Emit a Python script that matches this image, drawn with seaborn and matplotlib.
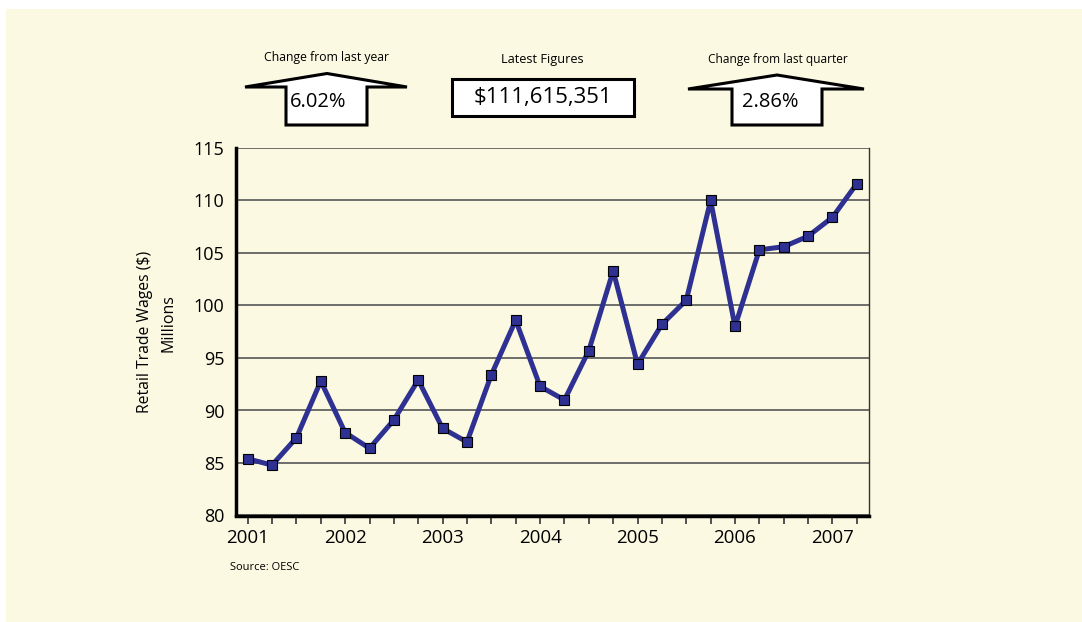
import matplotlib
matplotlib.use("Agg")
import matplotlib.pyplot as plt
from matplotlib.patches import Rectangle, Polygon
import seaborn as sns
import pandas as pd

# quarterly retail trade wages, millions of dollars (2001 Q1 .. 2007 Q2)
quarters = list(range(26))
wages = [85.4, 84.8, 87.4, 92.8, 87.9, 86.4, 89.1, 92.9, 88.3, 87.0,
         93.4, 98.6, 92.3, 91.0, 95.7, 103.3, 94.4, 98.2, 100.5, 110.0,
         98.0, 105.3, 105.6, 106.6, 108.4, 111.6]
years = ["2001", "2002", "2003", "2004", "2005", "2006", "2007"]
y_ticks = [80, 85, 90, 95, 100, 105, 110, 115]

yearly_change = "6.02%"
latest_figure = "$111,615,351"
quarterly_change = "2.86%"

W, H = 1082, 622
BG = "#FBF9E2"
LINE = "#2E3192"

sns.set_style("white")
plt.rcParams["font.family"] = ["Open Sans", "DejaVu Sans"]
plt.rcParams["text.color"] = "black"
plt.rcParams["xtick.color"] = "black"
plt.rcParams["ytick.color"] = "black"

fig = plt.figure(figsize=(W / 100, H / 100), dpi=100, facecolor="white")


def fx(x):
    return x / W


def fy(y):
    return 1 - y / H


# cream panel (behind the axes), white strip only on top and left
fig.patches.append(Rectangle((fx(6), 0), fx(W - 6), (H - 9) / H,
                             transform=fig.transFigure, facecolor=BG,
                             edgecolor="none", zorder=-5))

ax = fig.add_axes([fx(235.5), fy(515.5), fx(869 - 235.5), (515.5 - 148) / H])
ax.set_facecolor(BG)

df = pd.DataFrame({"q": quarters, "wages": wages})
sns.lineplot(data=df, x="q", y="wages", ax=ax, color=LINE, linewidth=3.6,
             marker="s", markersize=6.5, markeredgecolor="black",
             markeredgewidth=0.8, markerfacecolor=LINE, zorder=3)

ax.set_xlim(-0.5, 25.5)
ax.set_ylim(80, 115)
ax.set_yticks(y_ticks)
ax.set_yticklabels([str(v) for v in y_ticks], fontsize=13)
ax.set_xticks(quarters)
ax.set_xticklabels([years[q // 4] if q % 4 == 0 else "" for q in quarters],
                   fontsize=13.5)
ax.tick_params(axis="x", direction="out", length=6, width=1.3, color="#444444",
               pad=4, bottom=True, labelcolor="black")
ax.tick_params(axis="y", length=0, pad=8, left=False, labelcolor="black")
ax.yaxis.grid(True, color="#555555", linewidth=1.2)
ax.set_axisbelow(True)
ax.set_xlabel("")
ax.set_ylabel("")

ax.spines["top"].set_visible(False)
ax.spines["left"].set_linewidth(2.5)
ax.spines["left"].set_color("black")
ax.spines["bottom"].set_linewidth(2.5)
ax.spines["bottom"].set_color("black")
ax.spines["right"].set_linewidth(1.0)
ax.spines["right"].set_color("#333333")

fig.text(fx(145), fy(332), "Retail Trade Wages ($)", rotation=90,
         ha="center", va="center", fontsize=11.3)
fig.text(fx(169), fy(323), "Millions", rotation=90,
         ha="center", va="center", fontsize=11.5)
fig.text(fx(230), fy(568), "Source: OESC", ha="left", va="center", fontsize=8)


def arrow(left, apex_x, apex_y, right, base_y, box_l, box_r, box_b):
    pts = [(left, base_y), (apex_x, apex_y), (right, base_y), (box_r, base_y),
           (box_r, box_b), (box_l, box_b), (box_l, base_y)]
    fig.patches.append(Polygon([(fx(x), fy(y)) for x, y in pts], closed=True,
                               transform=fig.transFigure, facecolor="white",
                               edgecolor="black", linewidth=2.2, zorder=2))


arrow(245, 327, 73.5, 407, 87, 286, 367, 125)
fig.text(fx(327), fy(57), "Change from last year", ha="center", va="center",
         fontsize=8.8)
fig.text(fx(318), fy(102), yearly_change, ha="center", va="center",
         fontsize=14.5, zorder=5)

arrow(688, 777, 75, 864, 89, 732, 822, 125)
fig.text(fx(778), fy(59), "Change from last quarter", ha="center",
         va="center", fontsize=8.6)
fig.text(fx(770), fy(102), quarterly_change, ha="center", va="center",
         fontsize=14.5, zorder=5)

fig.patches.append(Rectangle((fx(452), fy(116)), fx(634 - 452), (116 - 78.5) / H,
                             transform=fig.transFigure, facecolor="white",
                             edgecolor="black", linewidth=2.2, zorder=2))
fig.text(fx(542), fy(60), "Latest Figures", ha="center", va="center",
         fontsize=9.2)
fig.text(fx(543), fy(98), latest_figure, ha="center", va="center",
         fontsize=16, zorder=5)

fig.savefig("out.png", dpi=100, facecolor="white")
